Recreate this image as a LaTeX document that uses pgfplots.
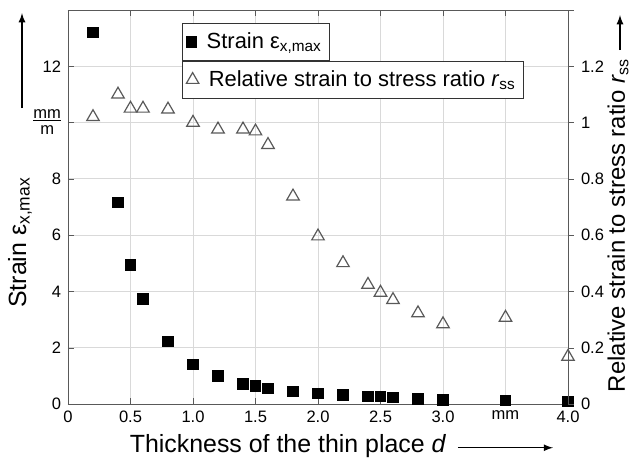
\documentclass[border=0pt]{standalone}
\usepackage{pgfplots}
\pgfplotsset{compat=1.18}
\usepackage{fontspec}
\setmainfont{Liberation Sans}
\newcommand\mmm{\begin{tabular}{@{}c@{}}mm\\[-2pt]\hline m\end{tabular}}
\begin{document}
\begin{tikzpicture}[font=\fontsize{8.3}{10}\selectfont]
\pgfplotsset{
 myax/.style={scale only axis, width=250bp, height=197bp, xmin=0, xmax=4,
  clip=false,
  /pgf/number format/assume math mode=true,
  tick label style={font=\fontsize{8.3}{10}\selectfont},
  axis line style={black!65}, tick style={black!65},
  major tick length=3bp,
  legend cell align=left,
  legend style={draw=black!80, font=\fontsize{11}{13}\selectfont, anchor=north west,
    inner xsep=2pt, inner ysep=2.5pt, row sep=0pt,
    /tikz/every odd column/.append style={column sep=3pt}}
 }
}
\begin{axis}[myax, ymin=0, ymax=14, ytick={0,2,...,14},
  yticklabels={0,2,4,6,8,\mmm,12,{}},
  axis y line*=left, tick align=inside,
  xtick={0,0.5,...,4}, xticklabels={0,0.5,1.0,1.5,2.0,2.5,3.0,mm,4.0},
  grid=major, grid style={black!15, line width=0.4pt},
  legend style={at={(0.228,0.967)}}]
\addplot[only marks, mark=square*, mark size=2.6bp, black] coordinates {
(0.2,13.2) (0.4,7.16) (0.5,4.95) (0.6,3.74) (0.8,2.22) (1.0,1.41) (1.2,1.0)
(1.4,0.72) (1.5,0.64) (1.6,0.55) (1.8,0.44) (2.0,0.38) (2.2,0.32) (2.4,0.26)
(2.5,0.26) (2.6,0.24) (2.8,0.18) (3.0,0.15) (3.5,0.12) (4.0,0.1)};
\addlegendentry{Strain ε\textsubscript{x,max}}
\coordinate (bl) at (rel axis cs:-0.136,-0.1447);
\coordinate (tr) at (rel axis cs:1.128,1.0254);
\node[rotate=90, font=\fontsize{12.5}{14}\selectfont] at (rel axis cs:-0.096,0.41) {Strain ε\textsubscript{x,max}};
\draw[-latex, line width=0.6pt] (rel axis cs:-0.092,0.751) -- (rel axis cs:-0.092,0.992);
\node[font=\fontsize{12.5}{14}\selectfont] at (rel axis cs:0.44,-0.106) {Thickness of the thin place \textit{d}};
\draw[-latex, line width=0.6pt] (rel axis cs:0.78,-0.111) -- (rel axis cs:0.97,-0.111);
\end{axis}
\begin{axis}[myax, ymin=0, ymax=1.4, ytick={0,0.2,...,1.4},
  yticklabels={0,0.2,0.4,0.6,0.8,1,1.2,{}},
  axis y line*=right, axis x line=none, tick align=outside,
  legend style={at={(0.228,0.8706)}}]
\addplot[only marks, mark=triangle, mark size=3.6bp, black!65, line width=0.6pt] coordinates {
(0.2,1.02) (0.4,1.10) (0.5,1.05) (0.6,1.05) (0.8,1.047) (1.0,1.0) (1.2,0.976)
(1.4,0.976) (1.5,0.969) (1.6,0.921) (1.8,0.738) (2.0,0.596) (2.2,0.501) (2.4,0.424)
(2.5,0.396) (2.6,0.37) (2.8,0.323) (3.0,0.284) (3.5,0.307) (4.0,0.168)};
\addlegendentry{Relative strain to stress ratio \textit{r}\textsubscript{ss}}
\node[rotate=90, font=\fontsize{12}{14}\selectfont] at (rel axis cs:1.10,0.454) {Relative strain to stress ratio \textit{r}\textsubscript{ss}};
\draw[-latex, line width=0.6pt] (rel axis cs:1.104,0.898) -- (rel axis cs:1.104,0.987);
\end{axis}
\pgfresetboundingbox
\path (bl) rectangle (tr);
\end{tikzpicture}
\end{document}
